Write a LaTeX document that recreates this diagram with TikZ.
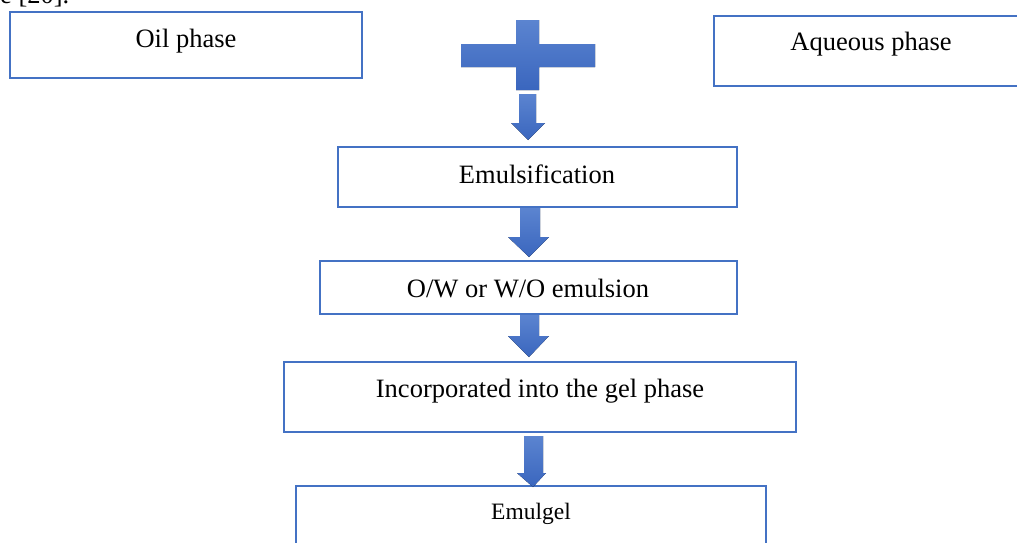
\documentclass[tikz,border=0pt]{standalone}
\usepackage{fontspec}
\setmainfont{Liberation Serif}
\begin{document}
\begin{tikzpicture}[x=1pt,y=-1pt,
  box/.style={draw=boxblue,line width=2pt,fill=white},
  lbl/.style={font=\fontsize{26.5}{30}\selectfont,inner sep=0pt},
  darr/.style={top color=arrtop,bottom color=arrbot,draw=none}]
\definecolor{boxblue}{HTML}{4472C4}
\definecolor{arrtop}{HTML}{5B84D0}
\definecolor{arrbot}{HTML}{3A66BE}
\useasboundingbox (0,0) rectangle (1017,542);
\clip (0,0) rectangle (1017,542);
% cut-off text at top
\node[lbl,anchor=base west] (cut) at (0,3) {e [20].};
% boxes
\draw[box] (10,12) rectangle (362,78);
\node[lbl] (oil) at (186,41) {Oil phase};
\draw[box] (714,16) rectangle (1030,86);
\node[lbl] (aq) at (871,44) {Aqueous phase};
\draw[box] (338,147) rectangle (737,207);
\node[lbl] (emu) at (537,174) {Emulsification};
\draw[box] (320,261) rectangle (737,314);
\node[lbl] (ow) at (528,288) {O/W or W/O emulsion};
\draw[box] (284,362) rectangle (796,432);
\node[lbl] (inc) at (540,391) {Incorporated into the gel phase};
\draw[box] (296,486) rectangle (766,560);
\node[lbl,font=\fontsize{23.5}{28}\selectfont] (gel) at (531,514) {Emulgel};
% plus sign
\fill[darr] (516,20) -- (539,20) -- (539,44) -- (595,44) -- (595,67) -- (539,67)
  -- (539,90) -- (516,90) -- (516,67) -- (461,67) -- (461,44) -- (516,44) -- cycle;
% arrows
\fill[darr] (519,94) -- (536,94) -- (536,123) -- (545,123) -- (528,140) -- (511,123) -- (519,123) -- cycle;
\fill[darr] (520,208) -- (540,208) -- (540,237) -- (549,237) -- (529,257) -- (508,237) -- (520,237) -- cycle;
\fill[darr] (520,315) -- (539,315) -- (539,336) -- (549,336) -- (529,357) -- (508,336) -- (520,336) -- cycle;
\fill[darr] (524,436) -- (543,436) -- (543,473) -- (546,473) -- (533,487) -- (517,473) -- (524,473) -- cycle;
\end{tikzpicture}
\end{document}
